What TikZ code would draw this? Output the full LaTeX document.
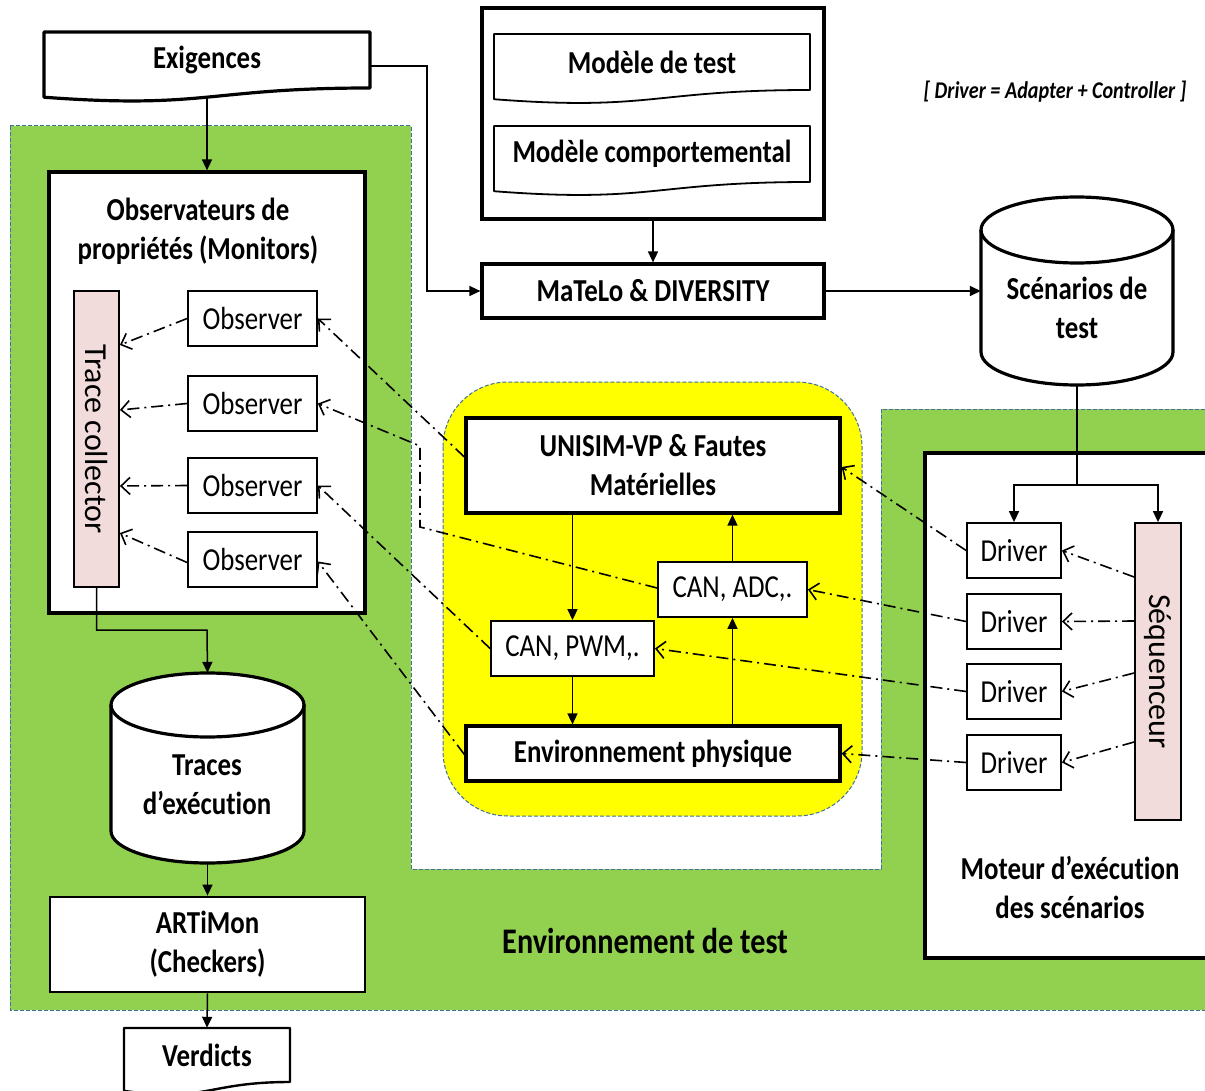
\documentclass[tikz,border=0pt]{standalone}
\usepackage{fontspec}
\setmainfont{Carlito}[FakeStretch=0.84, RawFeature={-liga;-clig;-calt;-dlig}]
\newfontfamily\rotfont{Carlito}[RawFeature={-liga;-clig;-calt;-dlig}]
\usepackage{graphicx}
\usetikzlibrary{arrows.meta,calc}

\definecolor{envgreen}{HTML}{92D050}
\definecolor{hwyellow}{HTML}{FFFF00}
\definecolor{rosebox}{HTML}{F2DCDB}
\definecolor{zoneblue}{HTML}{41719C}

\tikzset{
  boldbox/.style={draw, line width=3.2pt, fill=white, inner sep=0pt, align=center,
    font=\bfseries\fontsize{32}{39}\selectfont},
  slimbox/.style={draw, line width=1.8pt, fill=white, inner sep=0pt, align=center,
    font=\fontsize{32}{39}\selectfont},
  rosebar/.style={draw, line width=1.8pt, fill=rosebox, inner sep=0pt,
    font=\rotfont\fontsize{32}{39}\selectfont},
  txt/.style={inner sep=0pt, align=center, font=\bfseries\fontsize{32}{39}\selectfont},
  wire/.style={line width=1.5pt},
  flowarrow/.style={line width=1.5pt, -{Triangle[length=11pt,width=10pt]}},
  sigline/.style={line width=1.6pt, dash pattern=on 12pt off 5pt on 2pt off 5pt,
    -{Straight Barb[length=9pt,width=17pt]}},
  zoneline/.style={draw=zoneblue, line width=1pt, dash pattern=on 4pt off 2pt},
}

% document symbol: a box with a wavy lower edge (name, left, right, top, height, line width, text)
\newcommand{\docnode}[7]{%
  \node[txt, minimum width={#3-#2}, minimum height=#5] (#1) at ({(#2+#3)/2},{-(#4+#5/2)}) {#7};
  \draw[line width=#6, line join=round] (#2,-#4) -- (#3,-#4) -- (#3,{-(#4+#5)})
    .. controls ({(#2+#3)/2},{-(#4+#5)}) and ({(#2+#3)/2},{-(#4+1.3815*#5)}) .. (#2,{-(#4+1.1646*#5)}) -- cycle;
}

% data store drawn as a cylinder (name, left, right, top, bottom, half height of the ellipse)
\newcommand{\drum}[6]{%
  \node[inner sep=0pt, minimum width={#3-#2}, minimum height={#5-#4}] (#1) at ({(#2+#3)/2},{-(#4+#5)/2}) {};
  \draw[line width=3.2pt, fill=white] (#2,{-(#4+#6)}) -- (#2,{-(#5-#6)})
    arc[start angle=180, end angle=360, x radius={(#3-#2)/2}, y radius=#6]
    -- (#3,{-(#4+#6)})
    arc[start angle=0, end angle=180, x radius={(#3-#2)/2}, y radius=#6] -- cycle;
  \draw[line width=3.2pt] (#2,{-(#4+#6)})
    arc[start angle=180, end angle=360, x radius={(#3-#2)/2}, y radius=#6];
}

\begin{document}
\begin{tikzpicture}[x=1pt, y=1pt]
  \fill[white] (0,0) rectangle (1205,-1091);
  \useasboundingbox (0,0) rectangle (1205,-1091);

  % test environment zone
  \fill[envgreen] (10,-126) -- (411,-126) -- (411,-869) -- (881,-869) -- (881,-409)
    -- (1215,-409) -- (1215,-1010) -- (10,-1010) -- cycle;
  \draw[zoneline] (10,-126) -- (411,-126) -- (411,-869) -- (881,-869) -- (881,-409)
    -- (1215,-409) -- (1215,-1010) -- (10,-1010) -- cycle;

  % hardware platform zone
  \draw[zoneline, fill=hwyellow, rounded corners=65pt] (443,-382) rectangle (862,-816);

  % models and test generation
  \node[boldbox, minimum width=342, minimum height=211] (models) at (653,-113.5) {};
  \docnode{mdt}{494}{810}{34}{56}{1.8pt}{Modèle de test}
  \docnode{mdc}{494}{810}{126}{56}{1.8pt}{Modèle comportemental}
  \node[boldbox, minimum width=342, minimum height=54] (mat) at (653,-291) {MaTeLo \& DIVERSITY};
  \drum{scen}{981}{1173}{197}{385}{33}
  \node[txt] (scentext) at (1077,-308) {Scénarios de\\test};
  \node[txt, font=\bfseries\itshape\fontsize{24}{29}\selectfont] (note) at (1055,-92)
    {[ Driver = Adapter + Controller ]};

  % requirements and monitors
  \docnode{exig}{44}{370}{32}{56}{3.2pt}{Exigences}
  \node[boldbox, minimum width=316, minimum height=441] (obsbox) at (207,-392.5) {};
  \node[txt] (obstitle) at (198,-231.5) {Observateurs de\\propriétés (Monitors)};
  \node[rosebar, minimum width=45, minimum height=296] (tc) at (96.5,-439) {\rotatebox{-90}{Trace collector}};
  \node[slimbox, minimum width=129, minimum height=55] (o1) at (252.5,-318.5) {Observer};
  \node[slimbox, minimum width=129, minimum height=55] (o2) at (252.5,-403.5) {Observer};
  \node[slimbox, minimum width=129, minimum height=55] (o3) at (252.5,-485.5) {Observer};
  \node[slimbox, minimum width=129, minimum height=55] (o4) at (252.5,-559.5) {Observer};

  % traces and verdicts
  \drum{traces}{111}{304}{673}{863}{32}
  \node[txt] (tracestext) at (207,-785) {Traces\\d’exécution};
  \node[boldbox, line width=2.8pt, minimum width=315, minimum height=95] (art) at (207.5,-944.5) {ARTiMon\\(Checkers)};
  \docnode{verd}{124}{290}{1028}{54}{2.4pt}{Verdicts}

  % virtual platform
  \node[boldbox, minimum width=374, minimum height=95] (unisim) at (653,-465.5) {UNISIM-VP \& Fautes\\Matérielles};
  \node[slimbox, minimum width=149, minimum height=55] (canadc) at (732.5,-589.5) {CAN, ADC,.};
  \node[slimbox, minimum width=163, minimum height=55] (canpwm) at (572.5,-648.5) {CAN, PWM,.};
  \node[boldbox, minimum width=374, minimum height=55] (env) at (653,-753.5) {Environnement physique};

  % scenario execution engine
  \node[boldbox, minimum width=290, minimum height=505] (moteur) at (1070,-705.5) {};
  \node[txt] (moteurtitle) at (1070,-887.5) {Moteur d’exécution\\des scénarios};
  \node[slimbox, minimum width=94, minimum height=55] (d1) at (1014,-550.5) {Driver};
  \node[slimbox, minimum width=94, minimum height=55] (d2) at (1014,-621.5) {Driver};
  \node[slimbox, minimum width=94, minimum height=55] (d3) at (1014,-691.5) {Driver};
  \node[slimbox, minimum width=94, minimum height=55] (d4) at (1014,-762.5) {Driver};
  \node[rosebar, minimum width=46, minimum height=297] (seq) at (1158,-671.5) {\rotatebox{-90}{Séquenceur}};

  \node[txt, font=\bfseries\fontsize{36}{43}\selectfont] (envtest) at (645,-941) {Environnement de test};

  % solid flows
  \draw[flowarrow] ([yshift=-9.2pt]exig.south) -- (obsbox.north);
  \draw[flowarrow] ([yshift=-6pt]exig.east) -- ++(57,0) |- (mat.west);
  \draw[flowarrow] (models.south) -- (mat.north);
  \draw[flowarrow] (mat.east) -- (scen.west);
  \coordinate (split) at (1077,-485);
  \draw[wire] (scen.south) -- (split);
  \draw[flowarrow] (split) -| (d1.north);
  \draw[flowarrow] (split) -| (seq.north);
  \coordinate (tcbend) at (207,-630);
  \draw[flowarrow] (tc.south) |- (tcbend) -- (traces.north);
  \draw[flowarrow] (traces.south) -- (art.north);
  \draw[flowarrow] (art.south) -- (verd.north);
  \draw[flowarrow] (unisim.south -| canpwm.north) -- (canpwm.north);
  \draw[flowarrow] (canpwm.south) -- (env.north -| canpwm.south);
  \draw[flowarrow] (env.north -| canadc.south) -- (canadc.south);
  \draw[flowarrow] (canadc.north) -- (unisim.south -| canadc.north);

  % observers feeding the trace collector
  \draw[sigline] (o1.west) -- ([yshift=94pt]tc.east);
  \draw[sigline] (o2.west) -- ([yshift=29pt]tc.east);
  \draw[sigline] (o3.west) -- ([yshift=-47pt]tc.east);
  \draw[sigline] ([yshift=-3pt]o4.west) -- ([yshift=-94pt]tc.east);

  % probes on the platform
  \coordinate (probeup) at (420,-446);
  \coordinate (probedown) at (420,-527);
  \draw[sigline] ([yshift=8.5pt]unisim.west) -- (o1.east);
  \draw[sigline] ([yshift=1.5pt]canadc.west) -- (probedown) -- (probeup) -- (o2.east);
  \draw[sigline] (canpwm.west) -- (o3.east);
  \draw[sigline] ([yshift=-1pt]env.west) -- ([yshift=-2pt]o4.east);

  % drivers stimulating the platform
  \draw[sigline] (d1.west) -- ([yshift=-1.5pt]unisim.east);
  \draw[sigline] (d2.west) -- (canadc.east);
  \draw[sigline] (d3.west) -- (canpwm.east);
  \draw[sigline] (d4.west) -- (env.east);

  % sequencer commanding the drivers
  \draw[sigline] ([yshift=94.5pt]seq.west) -- (d1.east);
  \draw[sigline] ([yshift=50.5pt]seq.west) -- (d2.east);
  \draw[sigline] ([yshift=-1.5pt]seq.west) -- (d3.east);
  \draw[sigline] ([yshift=-70.5pt]seq.west) -- (d4.east);
\end{tikzpicture}
\end{document}
